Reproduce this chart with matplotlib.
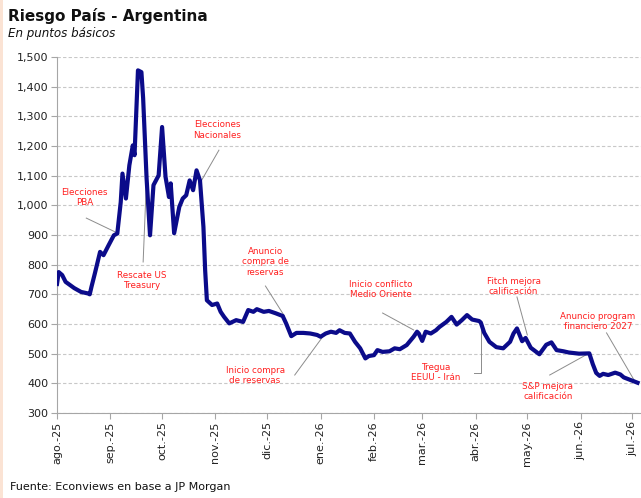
import numpy as np
import matplotlib
matplotlib.use("Agg")
import matplotlib.pyplot as plt
from matplotlib.patches import Rectangle

# Datos (dias desde 1-ago-2025, riesgo pais en pb)
dias = [0, 1, 3, 5, 10, 14, 18, 19, 20, 22, 25, 27, 30, 33, 35, 37, 38, 40, 42, 44,
        45, 47, 49, 50, 52, 54, 56, 59, 61, 63, 65, 66, 68, 71, 73, 75, 77, 79, 81, 83,
        85, 86, 87, 90, 93, 95, 97, 100, 104, 108, 111, 114, 116, 120, 123, 127, 131, 133, 136, 139,
        143, 147, 151, 153, 156, 159, 162, 164, 167, 170, 173, 176, 179, 181, 184, 186, 189, 193, 196, 199,
        203, 207, 209, 210, 212, 214, 217, 220, 222, 226, 229, 232, 235, 238, 241, 245, 246, 248, 251, 255,
        259, 263, 265, 267, 270, 272, 275, 280, 284, 287, 290, 294, 297, 303, 309, 311, 313, 315, 317, 320,
        324, 327, 329, 333, 337]
riesgo = [735, 775, 765, 742, 721, 708, 703, 700, 725, 771, 843, 832, 866, 899, 905, 1011, 1107, 1023, 1135, 1202,
          1169, 1455, 1449, 1361, 1091, 899, 1068, 1101, 1264, 1096, 1028, 1074, 906, 995, 1023, 1034, 1084, 1051, 1118, 1084,
          927, 781, 680, 664, 669, 641, 624, 602, 613, 607, 647, 641, 650, 641, 644, 636, 627, 602, 559, 570,
          570, 568, 563, 557, 568, 574, 570, 579, 570, 568, 540, 518, 484, 492, 495, 512, 506, 508, 518, 515,
          529, 557, 574, 568, 543, 574, 568, 579, 590, 607, 624, 598, 613, 630, 615, 610, 605, 570, 540, 522,
          518, 540, 568, 585, 542, 553, 520, 498, 530, 538, 512, 508, 504, 500, 501, 465, 435, 425, 432, 428,
          436, 430, 420, 411, 402]

meses = ["ago.-25", "sep.-25", "oct.-25", "nov.-25", "dic.-25", "ene.-26",
         "feb.-26", "mar.-26", "abr.-26", "may.-26", "jun.-26", "jul.-26"]

# (texto, posicion texto, linea guia) en (dia, pb)
notas = [
    ("Elecciones\nPBA", (16.2, 1025), [(17.4, 957), (34.8, 907)]),
    ("Rescate US\nTreasury", (49.3, 748), [(52, 1095), (49.7, 809)]),
    ("Elecciones\nNacionales", (93.4, 1254), [(94, 1186), (83.9, 1085)]),
    ("Anuncio\ncompra de\nreservas", (120.6, 809), [(120.6, 728), (132.2, 627)]),
    ("Inicio compra\nde reservas", (114.8, 425), [(138, 428), (155.4, 563)]),
    ("Inicio conflicto\nMedio Oriente", (188.4, 715), [(189, 637), (207, 580)]),
    ("Tregua\nEEUU - Irán", (220.3, 435), [(242.4, 435), (246.4, 435), (246.4, 580)]),
    ("Fitch mejora\ncalificación", (265, 728), [(266.7, 691), (273.1, 563)]),
    ("S&P mejora\ncalificación", (284.7, 371), [(285.9, 428), (309, 502)]),
    ("Anuncio program\nfinanciero 2027", (313.7, 607), [(318.9, 570), (336.3, 401)]),
]

inicio = np.datetime64("2025-08-01")
fechas = inicio + np.array(dias).astype("timedelta64[D]")
ticks = np.arange(np.datetime64("2025-08"), np.datetime64("2026-08"), dtype="datetime64[M]").astype("datetime64[D]")

def d(x):
    return inicio + np.timedelta64(int(round(x)), "D")

plt.rcParams["font.family"] = "DejaVu Sans"

fig = plt.figure(figsize=(6.41, 4.98), dpi=100)
fig.patch.set_facecolor("white")
fig.add_artist(Rectangle((0, 0), 3 / 641, 1, transform=fig.transFigure,
                         facecolor="#FBE3D4", edgecolor="none"))

ax = fig.add_axes([57 / 641, 1 - 413 / 498, 1 - 57 / 641, (413 - 57) / 498])

ax.plot(fechas, riesgo, color="#0B0B8A", lw=3.0, solid_joinstyle="round", zorder=3)

ax.set_ylim(300, 1500)
ax.set_yticks(np.arange(300, 1501, 100))
ax.yaxis.set_major_formatter(matplotlib.ticker.FuncFormatter(lambda v, p: f"{int(v):,}"))
ax.set_xlim(inicio, inicio + np.timedelta64(339, "D"))
ax.set_xticks(ticks)
ax.set_xticklabels(meses, rotation=90, va="top", ha="center")

ax.grid(axis="y", color="#C8C8C8", ls=(0, (3, 2)), lw=0.8)
ax.set_axisbelow(True)
for s in ["top", "right"]:
    ax.spines[s].set_visible(False)
for s in ["left", "bottom"]:
    ax.spines[s].set_color("#A6A6A6")
ax.tick_params(axis="both", colors="#A6A6A6", labelcolor="#222222", labelsize=8,
               length=4, width=0.8, pad=2)

for texto, pos, linea in notas:
    ax.text(d(pos[0]), pos[1], texto, color="#FF1F1F", fontsize=6.3, ha="center",
            va="center", linespacing=1.15, zorder=4)
    xs = [d(p[0]) for p in linea]
    ys = [p[1] for p in linea]
    ax.plot(xs, ys, color="#8C8C8C", lw=0.7, zorder=2)

fig.text(8 / 641, 1 - 16 / 498, "Riesgo País - Argentina", fontsize=11,
         fontweight="bold", color="#111111", va="center", ha="left")
fig.text(8 / 641, 1 - 33 / 498, "En puntos básicos", fontsize=8.6, style="italic",
         color="#111111", va="center", ha="left")
fig.text(10 / 641, 1 - 487 / 498, "Fuente: Econviews en base a JP Morgan", fontsize=8,
         color="#111111", va="center", ha="left")

fig.savefig("out.png", dpi=100)
